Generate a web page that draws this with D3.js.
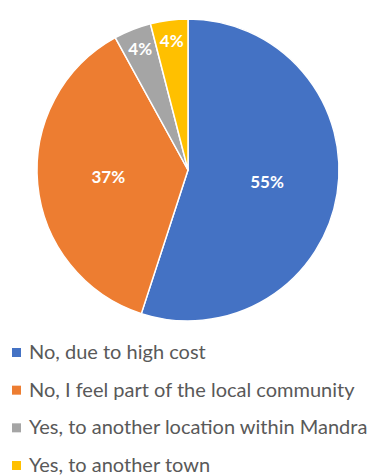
<!DOCTYPE html>
<html>
<head>
<meta charset="utf-8">
<script src="https://cdn.jsdelivr.net/npm/d3@7"></script>
<style>
  body { margin: 0; background: #fff; }
  svg { display: block; }
</style>
</head>
<body>
<svg id="chart" width="370" height="475"></svg>
<script>
// data
const categories = [
  'No, due to high cost',
  'No, I feel part of the local community',
  'Yes, to another location within Mandra',
  'Yes, to another town'
];
const shares = [55, 37, 4, 4];
const colors = ['#4472C4', '#ED7D31', '#A5A5A5', '#FFC000'];

const svg = d3.select('#chart');
const cx = 188, cy = 170, radius = 151;

const pie = d3.pie().sort(null).value(d => d);
const arcs = pie(shares);

const arc = d3.arc().innerRadius(0).outerRadius(radius);
// big slices get their label near the middle, thin ones near the rim
const labelArc = d => {
  const r = d.value < 10 ? radius * 0.86 : radius * 0.53;
  return d3.arc().innerRadius(r).outerRadius(r);
};

const g = svg.append('g').attr('transform', `translate(${cx},${cy})`);

g.selectAll('path')
  .data(arcs)
  .join('path')
  .attr('d', arc)
  .attr('fill', (d, i) => colors[i])
  .attr('stroke', '#fff')
  .attr('stroke-width', 1.5)
  .attr('stroke-linejoin', 'round');

g.selectAll('text')
  .data(arcs)
  .join('text')
  .attr('transform', d => `translate(${labelArc(d).centroid(d)})`)
  .attr('text-anchor', 'middle')
  .attr('dy', '0.35em')
  .attr('fill', '#fff')
  .style('font-family', 'Lato, "Open Sans", sans-serif')
  .style('font-weight', 'bold')
  .style('font-size', '17px')
  .text(d => d.value + '%');

// legend
const legendY = d3.scalePoint()
  .domain(categories)
  .range([352, 465]);

const legend = svg.append('g')
  .selectAll('g')
  .data(categories)
  .join('g')
  .attr('transform', d => `translate(12,${legendY(d)})`);

legend.append('rect')
  .attr('x', 0)
  .attr('y', -4)
  .attr('width', 9)
  .attr('height', 9)
  .attr('fill', (d, i) => colors[i]);

legend.append('text')
  .attr('x', 17)
  .attr('dy', '0.35em')
  .attr('fill', '#595959')
  .style('font-family', 'Lato, "Open Sans", sans-serif')
  .style('font-size', '20px')
  .text(d => d);
</script>
</body>
</html>
